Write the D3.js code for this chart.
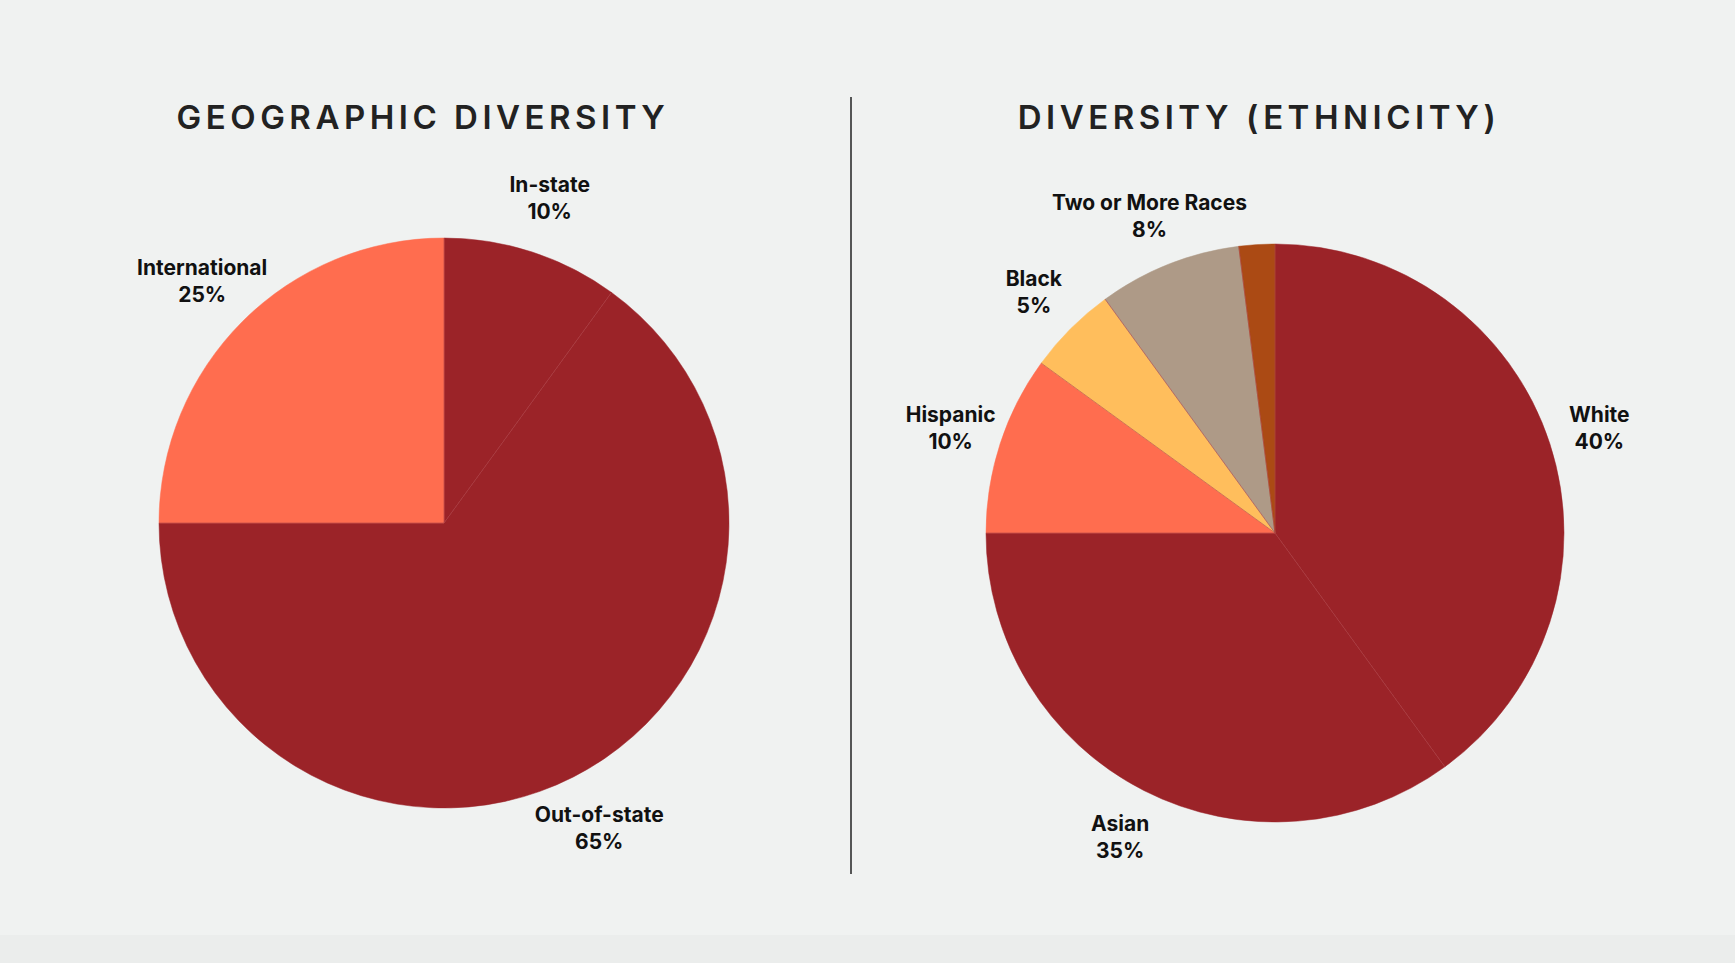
<!DOCTYPE html>
<html><head><meta charset="utf-8">
<script src="https://cdn.jsdelivr.net/npm/d3@7"></script>
<style>body{margin:0;background:#f0f2f1;}svg{display:block;}</style>
</head><body><div id="viz"></div>
<script>
const width = 1735, height = 963;

// Geographic diversity
const geoLabels = ["In-state", "Out-of-state", "International"];
const geoValues = [10, 65, 25];
const geoColors = ["#9b2328", "#9b2328", "#ff6d4f"];

// Ethnicity
const ethLabels = ["White", "Asian", "Hispanic", "Black", "Two or More Races", ""];
const ethValues = [40, 35, 10, 5, 8, 2];
const ethColors = ["#9b2328", "#9b2328", "#ff6d4f", "#ffbe5c", "#ae9a87", "#ab4a14"];

const svg = d3.select("#viz").append("svg").attr("width", width).attr("height", height);
svg.append("rect").attr("width", width).attr("height", height).attr("fill", "#f0f2f1");
svg.append("rect").attr("y", 935).attr("width", width).attr("height", 28).attr("fill", "#ebedec");

// divider
svg.append("line").attr("x1", 851).attr("x2", 851).attr("y1", 97).attr("y2", 874)
  .attr("stroke", "#222").attr("stroke-width", 1.5);

function drawPie({ cx, cy, r, title, titleX, labels, values, colors, labelFactor }) {
  const g = svg.append("g").attr("transform", `translate(${cx},${cy})`);
  const pie = d3.pie().sort(null).value(d => d)(values);
  const arc = d3.arc().innerRadius(0).outerRadius(r);
  g.selectAll("path").data(pie).enter().append("path")
    .attr("d", arc)
    .attr("fill", (d, i) => colors[i])
    .attr("stroke", (d, i) => colors[i])
    .attr("stroke-width", 0.5);
  // thin slice boundaries
  g.selectAll("line.b").data(pie).enter().append("line")
    .attr("x2", d => r * Math.sin(d.startAngle))
    .attr("y2", d => -r * Math.cos(d.startAngle))
    .attr("stroke", "#b0454a").attr("stroke-width", 0.6);

  const la = d3.arc().innerRadius(r * labelFactor).outerRadius(r * labelFactor);
  pie.forEach((d, i) => {
    if (!labels[i]) return;
    const [x, y] = la.centroid(d);
    const t = g.append("text").attr("text-anchor", "middle")
      .attr("font-family", "Inter, 'Noto Sans', sans-serif").attr("font-weight", 700)
      .attr("font-size", 21).attr("fill", "#111");
    t.append("tspan").attr("x", x).attr("y", y - 6).text(labels[i]);
    t.append("tspan").attr("x", x).attr("y", y + 21).text(values[i] + "%");
  });

  svg.append("text").attr("x", titleX).attr("y", 129).attr("text-anchor", "middle")
    .attr("font-family", "Inter, 'Noto Sans', sans-serif").attr("font-weight", 600)
    .attr("font-size", 33).attr("letter-spacing", 4.5).attr("fill", "#222")
    .text(title);
}

drawPie({ cx: 444, cy: 523, r: 285, title: "GEOGRAPHIC DIVERSITY", titleX: 423,
  labels: geoLabels, values: geoValues, colors: geoColors, labelFactor: 1.2 });
drawPie({ cx: 1275, cy: 533, r: 289, title: "DIVERSITY (ETHNICITY)", titleX: 1259,
  labels: ethLabels, values: ethValues, colors: ethColors, labelFactor: 1.18 });
</script></body></html>
